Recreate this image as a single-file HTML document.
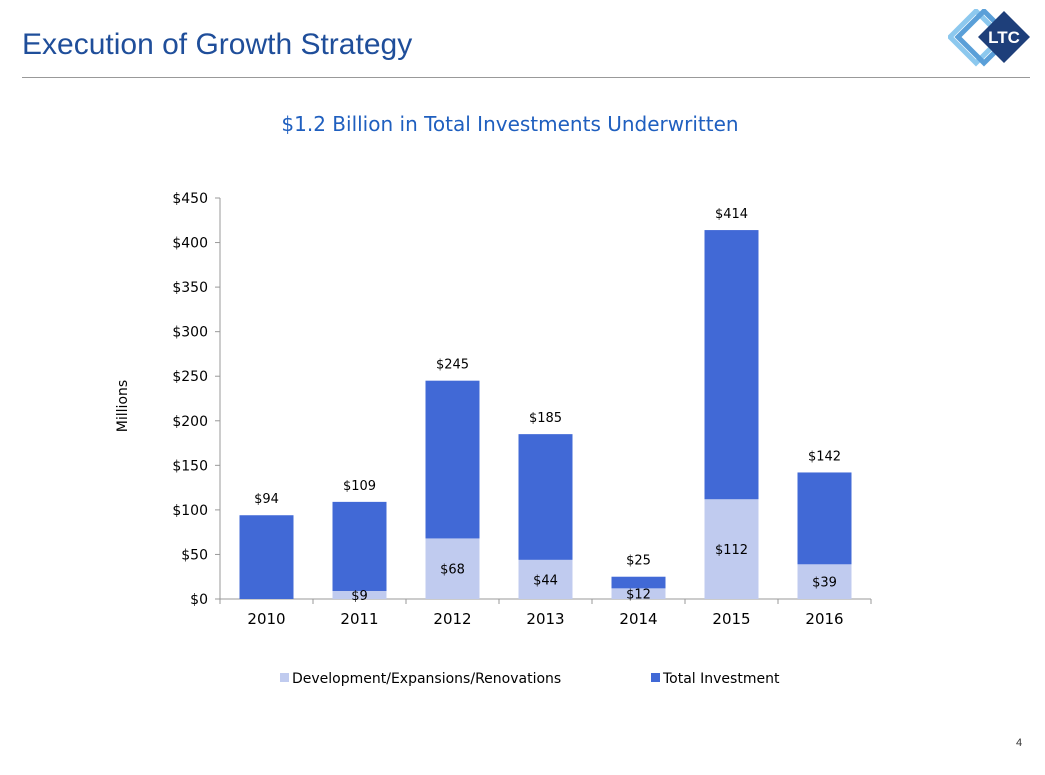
<!DOCTYPE html>
<html><head><meta charset="utf-8"><style>
body{margin:0;width:1045px;height:775px;background:#fff;font-family:"Liberation Sans",sans-serif;position:relative;overflow:hidden}
.t{position:absolute}
</style></head><body>
<div class="t" style="left:22px;top:28px;font-size:30px;color:#1f4e9a;letter-spacing:0px">Execution of Growth Strategy</div>
<div class="t" style="left:22px;top:77px;width:1008px;height:1px;background:#999"></div>
<svg class="t" style="left:948px;top:9px" width="90" height="60" viewBox="0 0 90 60">
<polygon points="28,2 54,28 28,54 2,28" fill="none" stroke="#8cc8ee" stroke-width="5"/>
<polygon points="36,2 62,28 36,54 10,28" fill="none" stroke="#5a9fd8" stroke-width="5"/>
<polygon points="56,2 82,28 56,54 30,28" fill="#1e3f7a"/>
<text x="56" y="34" font-size="17" font-weight="bold" fill="#fff" text-anchor="middle" font-family="Liberation Sans">LTC</text>
</svg>
<div class="t" style="left:0;width:1020px;text-align:center;top:112px;font-size:20px;color:#1f5fbf;font-family:'DejaVu Sans',sans-serif">$1.2 Billion in Total Investments Underwritten</div>
<svg id="chart" class="t" style="left:0;top:0;font-family:'DejaVu Sans',sans-serif" width="1045" height="775"></svg>
<div class="t" style="left:1016px;top:737px;font-size:11px;color:#333">4</div>
<script>
const categories=["2010","2011","2012","2013","2014","2015","2016"];
const totals=[94,109,245,185,25,414,142];
const dev=[0,9,68,44,12,112,39];
const yTicks=[0,50,100,150,200,250,300,350,400,450];
const NS="http://www.w3.org/2000/svg";
const svg=document.getElementById('chart');
const x0=220,bw=93,y0=599,yTop=198,ymax=450;
const X=i=>x0+bw*(i+0.5);
const Y=v=>y0-(y0-yTop)*v/ymax;
function mk(t,a,txt){const e=document.createElementNS(NS,t);for(const k in a)e.setAttribute(k,a[k]);if(txt!=null)e.textContent=txt;svg.appendChild(e);return e;}
let e;
e=mk('line',{x1:x0,y1:yTop,x2:x0,y2:y0,stroke:'#999'});


e=mk('line',{x1:x0,y1:y0,x2:x0+bw*categories.length,y2:y0,stroke:'#999'});


yTicks.forEach(v=>{
 mk('line',{x1:x0-5,y1:Y(v),x2:x0,y2:Y(v),stroke:'#999'});
 e=mk('text',{x:x0-12,y:Y(v)+5,'text-anchor':'end','font-size':14,fill:'#000'},'$'+v);
 
 
});
for(let i=0;i<=categories.length;i++)mk('line',{x1:x0+bw*i,y1:y0,x2:x0+bw*i,y2:y0+5,stroke:'#999'});
e=mk('text',{x:127,y:406,'text-anchor':'middle','font-size':14,transform:'rotate(-90 127 406)'},'Millions');


categories.forEach((c,i)=>{
 const w=54,l=X(i)-w/2;
 e=mk('rect',{x:l,y:Y(totals[i]),width:w,height:y0-Y(totals[i]),fill:'#4169d6'});
 
 
 if(dev[i]>0){
  e=mk('rect',{x:l,y:Y(dev[i]),width:w,height:y0-Y(dev[i]),fill:'#c0cbef'});
  
  
  e=mk('text',{x:X(i),y:(Y(dev[i])+y0)/2+5,'text-anchor':'middle','font-size':13},'$'+dev[i]);
  
  
 }
 e=mk('text',{x:X(i),y:Y(totals[i])-12,'text-anchor':'middle','font-size':13},'$'+totals[i]);
 
 
 e=mk('text',{x:X(i),y:y0+25,'text-anchor':'middle','font-size':15},c);
 
 
});
e=mk('rect',{x:280,y:673,width:9,height:9,fill:'#c0cbef'});


e=mk('text',{x:292,y:683,'font-size':14},'Development/Expansions/Renovations');


e=mk('rect',{x:651,y:673,width:9,height:9,fill:'#4169d6'});


e=mk('text',{x:663,y:683,'font-size':14},'Total Investment');


</script>
</body></html>
